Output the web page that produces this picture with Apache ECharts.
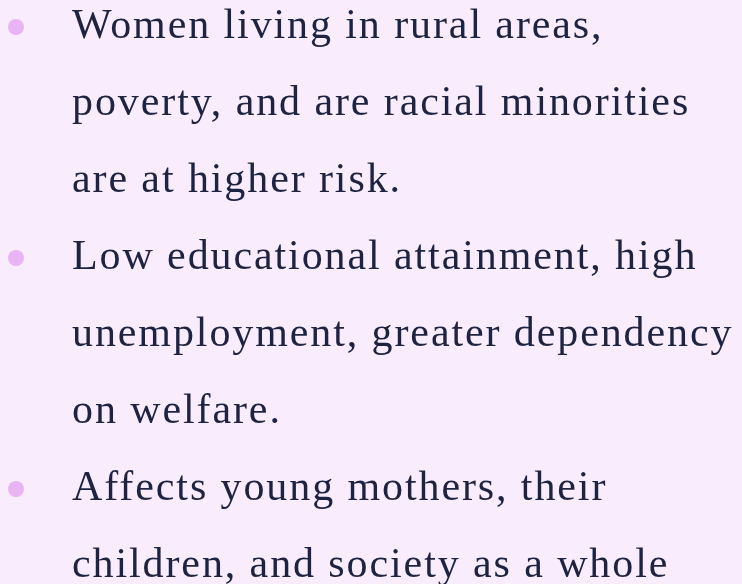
<!DOCTYPE html>
<html>
<head>
<meta charset="utf-8">
<script src="https://cdn.jsdelivr.net/npm/echarts@6/dist/echarts.min.js"></script>
<style>
	html,body{margin:0;padding:0;background:#f9ecfc;}
	#main{width:742px;height:584px;}
</style>
</head>
<body>
<div id="main"></div>
<script type="text/javascript">
	// bullet texts, each bullet split into its lines as in the slide
	var bullet1 = ["Women living in rural areas,", "poverty, and are racial minorities", "are at higher risk."];
	var bullet2 = ["Low educational attainment, high", "unemployment, greater dependency", "on welfare."];
	var bullet3 = ["Affects young mothers, their", "children, and society as a whole"];
	var bullets = [bullet1, bullet2, bullet3];

	//字间距 - zrender has no letterSpacing, so set it on the context before each fillText
	var proto = CanvasRenderingContext2D.prototype;
	var origFill = proto.fillText;
	proto.fillText = function(){
		this.letterSpacing = "1.9px";
		return origFill.apply(this, arguments);
	};

	var myChart = echarts.init(document.getElementById("main"));

	var lineGap = 77;//行距
	var textLeft = 72;
	var dotX = 16;

	var elements = [];
	var y = 27;
	bullets.forEach(function(lines){
		elements.push({
			type:'circle',
			shape:{cx:dotX,cy:y,r:8},
			style:{fill:'#e8b4f3'}
		});
		lines.forEach(function(line){
			elements.push({
				type:'text',
				x:textLeft,
				y:y,
				style:{
					text:line,
					fill:'#1d2340',
					font:'42px "Liberation Serif", "DejaVu Serif", serif',
					verticalAlign:'middle',
					align:'left'
				}
			});
			y += lineGap;
		});
	});

	var option = {
		backgroundColor:'#f9ecfc',
		animation:false,
		graphic:{elements:elements}
	};
	myChart.setOption(option);
</script>
</body>
</html>
